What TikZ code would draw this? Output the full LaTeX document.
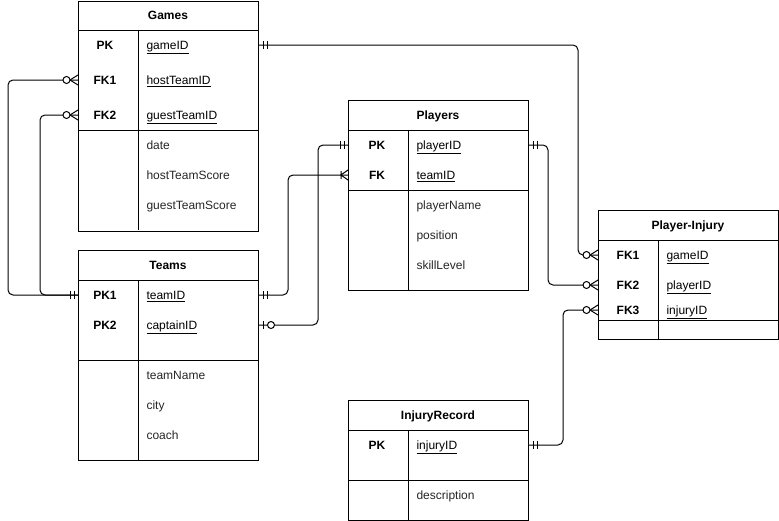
\documentclass[tikz,border=0pt]{standalone}
\usepackage{fontspec}
\setmainfont{Liberation Sans}
\usetikzlibrary{calc}
\newcommand\ermandone[2]{\begin{scope}[shift={#1},xscale=#2]\draw (4,-4)--(4,4) (8,-4)--(8,4);\end{scope}}
\newcommand\erzeromany[2]{\begin{scope}[shift={#1},xscale=#2]\draw (0,-5)--(8,0)--(0,5);\draw[fill=white] (11.5,0) circle[radius=3.5];\end{scope}}
\newcommand\eronemany[2]{\begin{scope}[shift={#1},xscale=#2]\draw (0,-5)--(7,0)--(0,5) (7,-4)--(7,4);\end{scope}}
\newcommand\erzeroone[2]{\begin{scope}[shift={#1},xscale=#2]\draw (4,-4)--(4,4);\draw[fill=white] (12,0) circle[radius=3.5];\end{scope}}
\begin{document}
\begin{tikzpicture}[x=0.75pt,y=-0.75pt,line width=0.75pt,
  every node/.style={font=\fontsize{9}{11}\selectfont},
  tbl/.style={draw,inner sep=0pt,anchor=north west,minimum width=135pt},
  hdr/.style={font=\bfseries\fontsize{9}{11}\selectfont,inner sep=0pt,text height=6.6pt,text depth=0pt},
  keyl/.style={font=\bfseries\fontsize{9}{11}\selectfont,inner sep=0pt,text height=6.6pt,text depth=0pt},
  keyf/.style={anchor=west,inner sep=0pt,text height=6.6pt,text depth=0pt},
  attr/.style={anchor=west,inner sep=0pt,text height=6.6pt,text depth=0pt,text=black!85},
  conn/.style={rounded corners=3.75pt}]
\useasboundingbox (0,0) rectangle (779,521);

% ---------- Games
\node[tbl,minimum height=172.5pt] (games) at (78,0.5) {};
\draw (78,30) -- (258,30) (78,130) -- (258,130) (138,30) -- (138,230);
\node[hdr] (g-h) at (168,15) {Games};
\node[keyl] (g-k1) at (105,45) {PK};
\node[keyl] (g-k2) at (105,80) {FK1};
\node[keyl] (g-k3) at (105,115) {FK2};
\node[keyf] (g-f1) at (146,45) {\underline{gameID}};
\node[keyf] (g-f2) at (146,80) {\underline{hostTeamID}};
\node[keyf] (g-f3) at (146,115) {\underline{guestTeamID}};
\node[attr] (g-a1) at (146,145) {date};
\node[attr] (g-a2) at (146,175) {hostTeamScore};
\node[attr] (g-a3) at (146,205) {guestTeamScore};

% ---------- Teams
\node[tbl,minimum height=157.5pt] (teams) at (78,250) {};
\draw (78,280) -- (258,280) (78,360) -- (258,360) (138,280) -- (138,460);
\node[hdr] (t-h) at (168,265) {Teams};
\node[keyl] (t-k1) at (105,295) {PK1};
\node[keyl] (t-k2) at (105,325) {PK2};
\node[keyf] (t-f1) at (146,295) {\underline{teamID}};
\node[keyf] (t-f2) at (146,325) {\underline{captainID}};
\node[attr] (t-a1) at (146,375) {teamName};
\node[attr] (t-a2) at (146,405) {city};
\node[attr] (t-a3) at (146,435) {coach};

% ---------- Players
\node[tbl,minimum height=142.5pt] (players) at (348,100) {};
\draw (348,130) -- (528,130) (348,190) -- (528,190) (408,130) -- (408,290);
\node[hdr] (p-h) at (438,115) {Players};
\node[keyl] (p-k1) at (377,145) {PK};
\node[keyl] (p-k2) at (377,175) {FK};
\node[keyf] (p-f1) at (416,145) {\underline{playerID}};
\node[keyf] (p-f2) at (416,175) {\underline{teamID}};
\node[attr] (p-a1) at (416,205) {playerName};
\node[attr] (p-a2) at (416,235) {position};
\node[attr] (p-a3) at (416,265) {skillLevel};

% ---------- Player-Injury
\node[tbl,minimum height=96.75pt] (pi) at (598,210) {};
\draw (598,240) -- (778,240) (598,320) -- (778,320) (658,240) -- (658,339);
\node[hdr] (pi-h) at (688,225) {Player-Injury};
\node[keyl] (pi-k1) at (628,255) {FK1};
\node[keyl] (pi-k2) at (628,285) {FK2};
\node[keyl] (pi-k3) at (628,310) {FK3};
\node[keyf] (pi-f1) at (666,255) {\underline{gameID}};
\node[keyf] (pi-f2) at (666,285) {\underline{playerID}};
\node[keyf] (pi-f3) at (666,310) {\underline{injuryID}};

% ---------- InjuryRecord
\node[tbl,minimum height=90pt] (ir) at (348,400) {};
\draw (348,430) -- (528,430) (348,480) -- (528,480) (408,430) -- (408,520);
\node[hdr] (ir-h) at (438,415) {InjuryRecord};
\node[keyl] (ir-k1) at (377,445) {PK};
\node[keyf] (ir-f1) at (416,445) {\underline{injuryID}};
\node[attr] (ir-a1) at (416,495) {description};

% ---------- connectors
\draw[conn] (games.east |- g-k1) -| ($(pi.west |- pi-k1)+(-20,0)$) -- (pi.west |- pi-k1);
\draw[conn] (games.west |- g-k2) -| ($(teams.west |- t-k1)+(-70,0)$) -- (teams.west |- t-k1);
\draw[conn] (games.west |- g-k3) -| ($(teams.west |- t-k1)+(-38,0)$) -- (teams.west |- t-k1);
\draw[conn] (teams.east |- t-k1) -| ($(players.west |- p-k2)+(-60,0)$) -- (players.west |- p-k2);
\draw[conn] (teams.east |- t-k2) -| ($(players.west |- p-k1)+(-30,0)$) -- (players.west |- p-k1);
\draw[conn] (players.east |- p-k1) -| ($(pi.west |- pi-k2)+(-50,0)$) -- (pi.west |- pi-k2);
\draw[conn] (ir.east |- ir-k1) -| ($(pi.west |- pi-k3)+(-35,0)$) -- (pi.west |- pi-k3);

% ---------- ends
\ermandone{(games.east |- g-k1)}{1}
\erzeromany{(pi.west |- pi-k1)}{-1}
\erzeromany{(games.west |- g-k2)}{-1}
\erzeromany{(games.west |- g-k3)}{-1}
\ermandone{(teams.west |- t-k1)}{-1}
\ermandone{(teams.east |- t-k1)}{1}
\eronemany{(players.west |- p-k2)}{-1}
\erzeroone{(teams.east |- t-k2)}{1}
\ermandone{(players.west |- p-k1)}{-1}
\ermandone{(players.east |- p-k1)}{1}
\erzeromany{(pi.west |- pi-k2)}{-1}
\ermandone{(ir.east |- ir-k1)}{1}
\erzeromany{(pi.west |- pi-k3)}{-1}
\end{tikzpicture}
\end{document}
